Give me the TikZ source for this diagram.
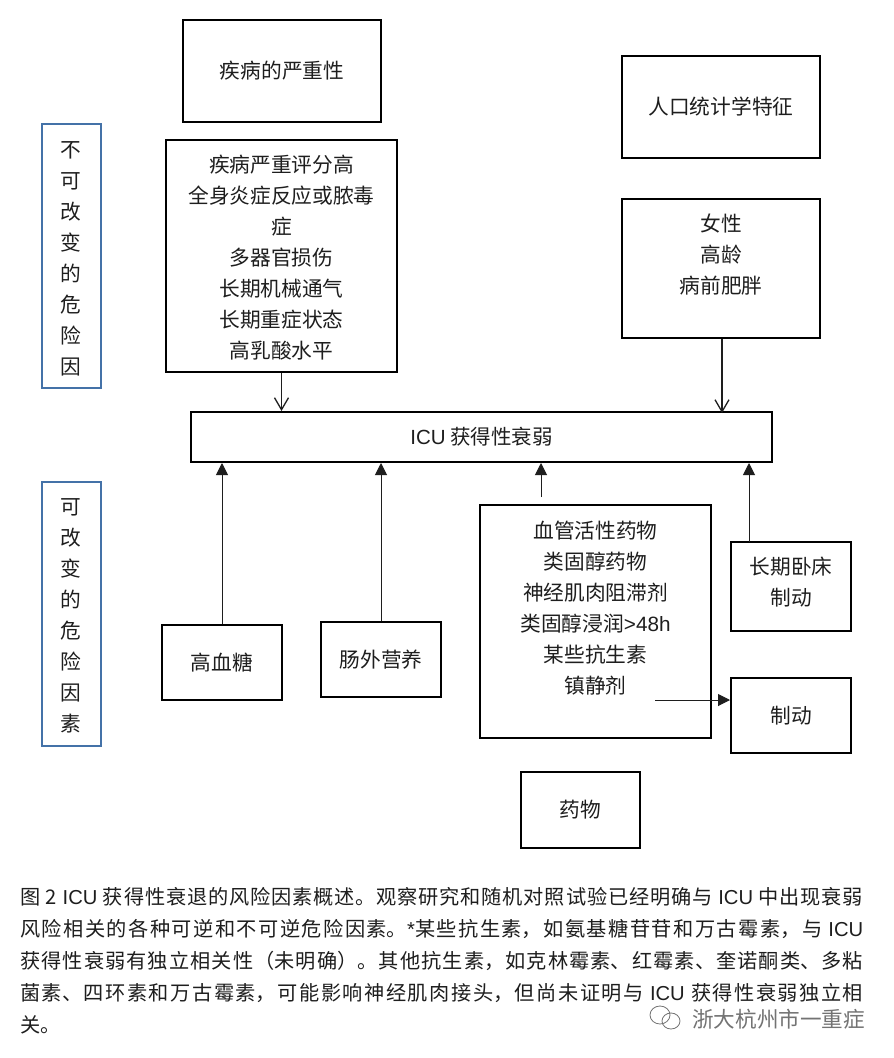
\documentclass[tikz,border=0pt]{standalone}
\usepackage{fontspec}
\usetikzlibrary{arrows.meta}
\setmainfont{Noto Sans CJK SC}
\newfontfamily\latf{Liberation Sans}
\XeTeXlinebreaklocale "zh"
\XeTeXlinebreakskip=0pt plus 2pt minus .6pt
\definecolor{blueframe}{HTML}{4472A8}
\definecolor{inkc}{HTML}{1E1E1E}
\tikzset{
  blackbox/.style={draw=black,line width=2pt,fill=white,inner sep=0pt,text=inkc,font=\fontsize{20.7}{31}\selectfont,align=center},
  bluebox/.style={draw=blueframe,line width=2pt,fill=white,inner sep=0pt,minimum width=59pt,minimum height=264pt},
  txt/.style={inner sep=0pt,text=inkc,font=\fontsize{20.7}{31}\selectfont,align=center},
  openarrow/.style={draw=inkc,line width=1.3pt,-{Straight Barb[length=12pt,width=14pt,line width=1.3pt]}},
  solidarrow/.style={draw=inkc,line width=1pt,-{Stealth[length=12pt,width=12pt,inset=0pt]}},
}
\begin{document}
\begin{tikzpicture}[x=1pt,y=-1pt]
\useasboundingbox (0,0) rectangle (894,1058);
\fill[white] (0,0) rectangle (894,1058);
% top boxes
\node[blackbox,minimum width=198pt,minimum height=102pt] (sev) at (282,71) {疾病的严重性};
\node[blackbox,minimum width=198pt,minimum height=102pt] (demo) at (721,107) {人口统计学特征};
\node[blackbox,minimum width=231pt,minimum height=232pt] (sevlist) at (281.5,256) {};
\node[txt] (sevtext) at (281.5,258) {疾病严重评分高\\全身炎症反应或脓毒\\症\\多器官损伤\\长期机械通气\\长期重症状态\\高乳酸水平};
\node[blackbox,minimum width=198pt,minimum height=139pt] (demolist) at (721,268.5) {};
\node[txt] (demotext) at (721,255) {女性\\高龄\\病前肥胖};
% side boxes
\node[bluebox] (fixed) at (71.5,256) {};
\node[txt,text width=24pt] (fixedtext) at (70.5,258.5) {不\\可\\改\\变\\的\\危\\险\\因};
\node[bluebox] (mod) at (71.5,614) {};
\node[txt,text width=24pt] (modtext) at (70.5,616) {可\\改\\变\\的\\危\\险\\因\\素};
% centre
\node[blackbox,minimum width=581pt,minimum height=50pt,font=\fontsize{20.5}{24}\selectfont] (icu) at (481.5,437) {{\latf ICU} 获得性衰弱};
% lower boxes
\node[blackbox,minimum width=120pt,minimum height=75pt] (glu) at (222,662.5) {高血糖};
\node[blackbox,minimum width=120pt,minimum height=75pt] (pn) at (381,659.5) {肠外营养};
\node[blackbox,minimum width=231pt,minimum height=233pt] (drugs) at (595.5,621.5) {};
\node[txt] (drugtext) at (595.5,608) {血管活性药物\\类固醇药物\\神经肌肉阻滞剂\\类固醇浸润{\latf >48h}\\某些抗生素\\镇静剂};
\node[blackbox,minimum width=120pt,minimum height=89pt] (bed) at (791,586.5) {};
\node[txt] (bedtext) at (791,582) {长期卧床\\制动};
\node[blackbox,minimum width=120pt,minimum height=75pt] (imm) at (791,715.5) {制动};
\node[blackbox,minimum width=119pt,minimum height=76pt] (med) at (580.5,810) {药物};
% connectors
\coordinate (drugfree) at (541,497);
\coordinate (bedup) at (749,542);
\coordinate (sedstart) at (655,700);
\draw[openarrow] (sevlist.south) -- (sevlist.south |- icu.north);
\draw[openarrow] (demolist.south) ++(1,0) -- ++(0,74);
\draw[solidarrow] (glu.north) -- (glu.north |- icu.south);
\draw[solidarrow] (pn.north) -- (pn.north |- icu.south);
\draw[solidarrow] (drugfree) -- (drugfree |- icu.south);
\draw[solidarrow] (bedup) -- (bedup |- icu.south);
\draw[solidarrow] (sedstart) -- (sedstart -| imm.west);
% caption
\node[anchor=north west,inner sep=0pt,text width=843pt,align=justify,text=inkc,font=\fontsize{20.2}{32}\selectfont] (caption) at (20,887) {图 2 {\latf ICU} 获得性衰退的风险因素概述。观察研究和随机对照试验已经明确与 {\latf ICU} 中出现衰弱\linebreak
风险相关的各种可逆和不可逆危险因素。{\latf *}某些抗生素，如氨基糖苷苷和万古霉素，与 {\latf ICU}\linebreak
获得性衰弱有独立相关性（未明确）。其他抗生素，如克林霉素、红霉素、奎诺酮类、多粘\linebreak
菌素、四环素和万古霉素，可能影响神经肌肉接头，但尚未证明与 {\latf ICU} 获得性衰弱独立相\linebreak
关。};
% watermark
\node[anchor=west,inner sep=0pt,text=black!55,font=\fontsize{21.6}{24}\selectfont] (mark) at (692,1019) {浙大杭州市一重症};
\draw[black!55,line width=.8pt] (660,1015) ellipse (10pt and 9pt);
\draw[black!55,line width=.8pt] (671,1021) ellipse (9pt and 8pt);
\end{tikzpicture}
\end{document}
